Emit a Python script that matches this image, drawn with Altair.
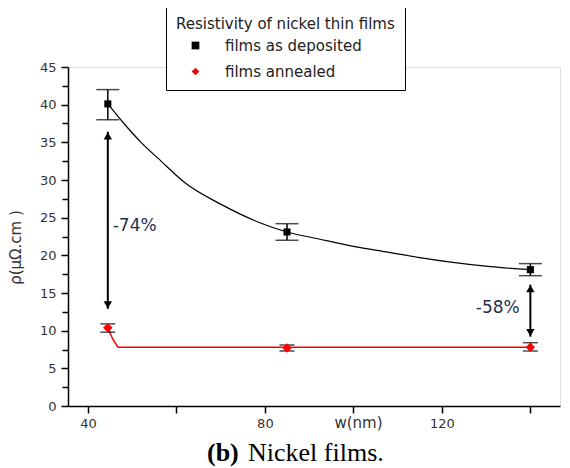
import altair as alt
import pandas as pd

# ---------------- data ----------------
series = ["films as deposited", "films annealed"]

w_pts = [44.5, 85, 140]
dep_rho = [40.1, 23.1, 18.1]
dep_lo = [38.0, 22.0, 17.3]
dep_hi = [42.0, 24.2, 18.9]
ann_rho = [10.4, 7.7, 7.8]
ann_lo = [9.8, 7.3, 7.3]
ann_hi = [10.9, 8.1, 8.4]

# fitted curves
dep_curve_w = [44.5, 48, 52, 56, 62, 70, 79, 85, 92, 100, 108, 115, 122, 131, 140]
dep_curve_rho = [40.1, 37.6, 35.0, 32.8, 29.6, 26.8, 24.3, 23.1, 22.2, 21.2, 20.4, 19.7, 19.1, 18.5, 18.1]
ann_curve_w = [44.5, 45.6, 46.8, 85, 140]
ann_curve_rho = [10.4, 8.9, 7.8, 7.8, 7.8]

# arrows (percentage change)
arrow_w = [44.5, 140]
arrow_top = [36.4, 16.1]
arrow_bot = [12.9, 9.2]
arrow_text = ["-74%", "-58%"]
arrow_text_w = [45.6, 137.6]
arrow_text_rho = [23.9, 13.0]
arrow_text_align = ["left", "right"]

x_major = [40, 80, 120]
x_minor = [60, 100, 140]
y_major = [0, 5, 10, 15, 20, 25, 30, 35, 40, 45]
y_minor = [2.5, 7.5, 12.5, 17.5, 22.5, 27.5, 32.5, 37.5, 42.5]

# ---------------- tables ----------------
pts = pd.DataFrame({
    "w": w_pts * 2,
    "rho": dep_rho + ann_rho,
    "lo": dep_lo + ann_lo,
    "hi": dep_hi + ann_hi,
    "cap": [23] * 3 + [15] * 3,
    "msize": [50] * 3 + [90] * 3,
    "series": [series[0]] * 3 + [series[1]] * 3,
})
dep_curve = pd.DataFrame({"w": dep_curve_w, "rho": dep_curve_rho})
ann_curve = pd.DataFrame({"w": ann_curve_w, "rho": ann_curve_rho})
arrows = pd.DataFrame({"w": arrow_w, "top": arrow_top, "bot": arrow_bot})
labels = pd.DataFrame({"w": arrow_text_w, "rho": arrow_text_rho,
                       "t": arrow_text, "a": arrow_text_align})

FONT = "DejaVu Sans"
TXT = "#333333"

xscale = alt.Scale(domain=[35.5, 146.7], nice=False, zero=False)
yscale = alt.Scale(domain=[0, 45], nice=False)

common = dict(grid=False, domainColor="black", domainWidth=1.5, tickColor="black",
              tickWidth=1.5, labelOverlap=False, labelBound=False, labelFlush=False)

xaxis = alt.Axis(values=x_major, tickSize=7, labelFontSize=13, labelFont=FONT, labelColor=TXT,
                 labelPadding=4, title="w(nm)", titleFont=FONT, titleFontSize=15,
                 titleFontWeight="normal", titleColor=TXT, titleX=290, titleY=9,
                 titleAlign="center", titleBaseline="top", **common)
xaxis_minor = alt.Axis(values=x_minor, tickSize=7, labels=False, domain=False, title=None,
                       orient="bottom", grid=False, tickColor="black", tickWidth=1.5)
yaxis = alt.Axis(values=y_major, tickSize=7, labelFontSize=13, labelFont=FONT, labelColor=TXT,
                 labelPadding=5, title="ρ(μΩ.cm )", titleFont=FONT, titleFontSize=15,
                 titleFontWeight="normal", titleColor=TXT, titleX=-53, titleY=180,
                 titleAngle=-90, titleAlign="center", titleBaseline="middle", **common)
yaxis_minor = alt.Axis(values=y_minor, tickSize=6, labels=False, domain=False, title=None,
                       orient="left", grid=False, tickColor="black", tickWidth=1.5)


def XX(field):
    return alt.X(field, type="quantitative", scale=xscale, axis=xaxis)


def YY(field):
    return alt.Y(field, type="quantitative", scale=yscale, axis=yaxis)


legend = alt.Legend(orient="none", legendX=98, legendY=-60, title="Resistivity of nickel thin films",
                    titleFont="DejaVu Sans", titleFontSize=15, titleFontWeight="normal",
                    titleColor="#222", titleLimit=600, labelLimit=600,
                    labelFont="DejaVu Sans", labelFontSize=15, labelColor="#222",
                    strokeColor="black", fillColor="white", padding=10, titlePadding=6,
                    rowPadding=10, symbolOffset=12, labelOffset=22, symbolSize=60,
                    symbolStrokeWidth=0)

base = alt.Chart(pts)

dep_line = alt.Chart(dep_curve).mark_line(color="black", strokeWidth=1.2,
                                          interpolate="monotone").encode(x=XX("w"), y=YY("rho"))
ann_line = alt.Chart(ann_curve).mark_line(color="red", strokeWidth=1.5).encode(
    x=XX("w"), y=YY("rho"))

err = base.mark_rule(color="black", strokeWidth=1.5).encode(x=XX("w"), y=YY("lo"), y2="hi:Q")
cap_lo = base.mark_tick(color="black", thickness=1.5, orient="horizontal").encode(
    x=XX("w"), y=YY("lo"), size=alt.Size("cap:Q", scale=None, legend=None))
cap_hi = base.mark_tick(color="black", thickness=1.5, orient="horizontal").encode(
    x=XX("w"), y=YY("hi"), size=alt.Size("cap:Q", scale=None, legend=None))

points = base.mark_point(filled=True, opacity=1).encode(
    x=XX("w"), y=YY("rho"),
    size=alt.Size("msize:Q", scale=None, legend=None),
    color=alt.Color("series:N", scale=alt.Scale(domain=series, range=["black", "red"]), legend=legend),
    shape=alt.Shape("series:N", scale=alt.Scale(domain=series, range=["square", "diamond"]), legend=legend),
)

arrow_line = alt.Chart(arrows).mark_rule(color="black", strokeWidth=2).encode(
    x=XX("w"), y=YY("top"), y2="bot:Q")
head_up = alt.Chart(arrows).mark_point(shape="triangle-up", filled=True, color="black",
                                       opacity=1, size=70, yOffset=4).encode(x=XX("w"), y=YY("top"))
head_dn = alt.Chart(arrows).mark_point(shape="triangle-down", filled=True, color="black",
                                       opacity=1, size=70, yOffset=-4).encode(x=XX("w"), y=YY("bot"))

txt_l = alt.Chart(labels[labels.a == "left"]).mark_text(
    align="left", baseline="middle", font=FONT, fontSize=17, color="#23304a").encode(
    x=XX("w"), y=YY("rho"), text="t:N")
txt_r = alt.Chart(labels[labels.a == "right"]).mark_text(
    align="right", baseline="middle", font=FONT, fontSize=17, color="#23304a").encode(
    x=XX("w"), y=YY("rho"), text="t:N")

cap_b = alt.Chart(pd.DataFrame({"t": ["(b)"]})).mark_text(
    align="left", baseline="alphabetic", font="Liberation Serif", fontSize=26,
    fontWeight="bold", color="black").encode(x=alt.value(139), y=alt.value(394), text="t:N")
cap_n = alt.Chart(pd.DataFrame({"t": ["Nickel films."]})).mark_text(
    align="left", baseline="alphabetic", font="Liberation Serif", fontSize=26,
    color="black").encode(x=alt.value(180), y=alt.value(394), text="t:N")

main = alt.layer(
    dep_line, ann_line, err, cap_lo, cap_hi, arrow_line, head_up, head_dn,
    points, txt_l, txt_r, cap_b, cap_n
)

minor_ticks = alt.Chart(dep_curve).mark_point(opacity=0).encode(
    x=alt.X("w:Q", scale=xscale, axis=xaxis_minor),
    y=alt.Y("rho:Q", scale=yscale, axis=yaxis_minor),
)

chart = alt.layer(main, minor_ticks).resolve_axis(x="independent", y="independent").properties(
    width=492, height=339,
    autosize=alt.AutoSizeParams(type="none"),
    padding={"left": 60, "top": 59, "right": 2, "bottom": 70},
).configure_view(stroke=None).configure(background="white").configure_axis(
    labelOverlap=False, labelFontSize=13, labelFont=FONT, labelColor=TXT)

chart.save("out.html", embed_options={"renderer": "svg", "actions": False})
